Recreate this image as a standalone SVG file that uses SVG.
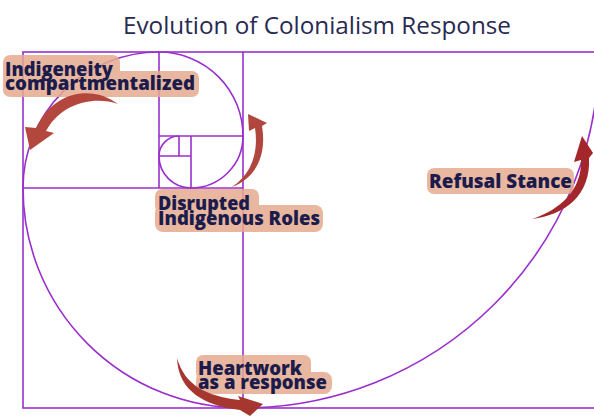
<svg xmlns="http://www.w3.org/2000/svg" width="594" height="417" viewBox="0 0 594 417">
  <style>
    .grid { fill: none; stroke: #9a30cb; stroke-width: 1.6; }
    .spiral { fill: none; stroke: #9a30cb; stroke-width: 1.6; }
    .title { font-family: "Open Sans", "Noto Sans", sans-serif; font-size: 24px; fill: #282a52; }
    .lbl { font-family: "Open Sans", "Noto Sans", sans-serif; font-weight: 800; font-size: 19px; fill: #1b1c4b; }
    .pad { fill: #e6ab90; }
    .arrow { stroke: none; }
  </style>

  <rect width="594" height="417" fill="#ffffff"/>

  <text class="title" x="317" y="34" text-anchor="middle" textLength="388" lengthAdjust="spacingAndGlyphs">Evolution of Colonialism Response</text>

  <!-- golden-rectangle grid -->
  <g id="grid">
    <rect class="grid" x="23" y="52" width="576" height="356"/>
    <path class="grid" d="M243,52 V408 M23,188 H243 M159,52 V188 M159,136 H243 M191,136 V188 M159,156 H191 M179,136 V156"/>
  </g>

  <!-- spiral -->
  <path id="spiral" class="spiral" d="M599,52 A356,356 0 0 1 243,408 A220,220 0 0 1 23,188 A136,136 0 0 1 159,52 A84,84 0 0 1 243,136 A52,52 0 0 1 191,188 A32,32 0 0 1 159,156 A20,20 0 0 1 179,136"/>

  <!-- labels -->
  <g id="node-indigeneity">
    <g class="pad" opacity="0.85">
      <rect x="3" y="55" width="117" height="27" rx="7"/>
      <rect x="3" y="71" width="196" height="26" rx="7"/>
    </g>
    <text class="lbl" x="5" y="76" textLength="108" lengthAdjust="spacingAndGlyphs">Indigeneity</text>
    <text class="lbl" x="5" y="90" textLength="190" lengthAdjust="spacingAndGlyphs">compartmentalized</text>
  </g>

  <g id="node-disrupted">
    <g class="pad" opacity="0.85">
      <rect x="155" y="189" width="104" height="24" rx="7"/>
      <rect x="155" y="205" width="168" height="27" rx="8"/>
    </g>
    <text class="lbl" x="158" y="210" textLength="92" lengthAdjust="spacingAndGlyphs">Disrupted</text>
    <text class="lbl" x="158" y="225" textLength="162" lengthAdjust="spacingAndGlyphs">Indigenous Roles</text>
  </g>

  <g id="node-refusal">
    <g class="pad" opacity="0.85">
      <rect x="427" y="168" width="147" height="26" rx="7"/>
    </g>
    <text class="lbl" x="429" y="188" textLength="143" lengthAdjust="spacingAndGlyphs">Refusal Stance</text>
  </g>

  <g id="node-heartwork">
    <g class="pad" opacity="0.85">
      <rect x="196" y="355" width="115" height="25" rx="7"/>
      <rect x="196" y="372" width="136" height="22" rx="8"/>
    </g>
    <text class="lbl" x="198" y="375" textLength="104" lengthAdjust="spacingAndGlyphs">Heartwork</text>
    <text class="lbl" x="198" y="389" textLength="129" lengthAdjust="spacingAndGlyphs">as a response</text>
  </g>

  <!-- curved tapered arrows -->
  <g id="connectors">
    <path class="arrow" fill="#b3473d" d="M118,104 C95,86 55,88 36,128 L25,127 L30,150 L54,133 L46,131 C62,102 95,96 118,104 Z"/>
    <path class="arrow" fill="#b0463e" d="M232,187 C256,178 267,155 262,126 L267,123 L248,114 L249,131 L255,128 C259,155 250,175 232,187 Z"/>
    <path class="arrow" fill="#a3262a" d="M532,219 C565,215 591,195 589,158 L593,153 L582,136 L574,162 L581,160 C582,190 560,210 532,219 Z"/>
    <path class="arrow" fill="#a6372f" d="M177,358 C178,391 205,406 240,410 L250,416 L263,404 L238,396 L240,400 C205,396 185,385 177,358 Z"/>
  </g>
</svg>
